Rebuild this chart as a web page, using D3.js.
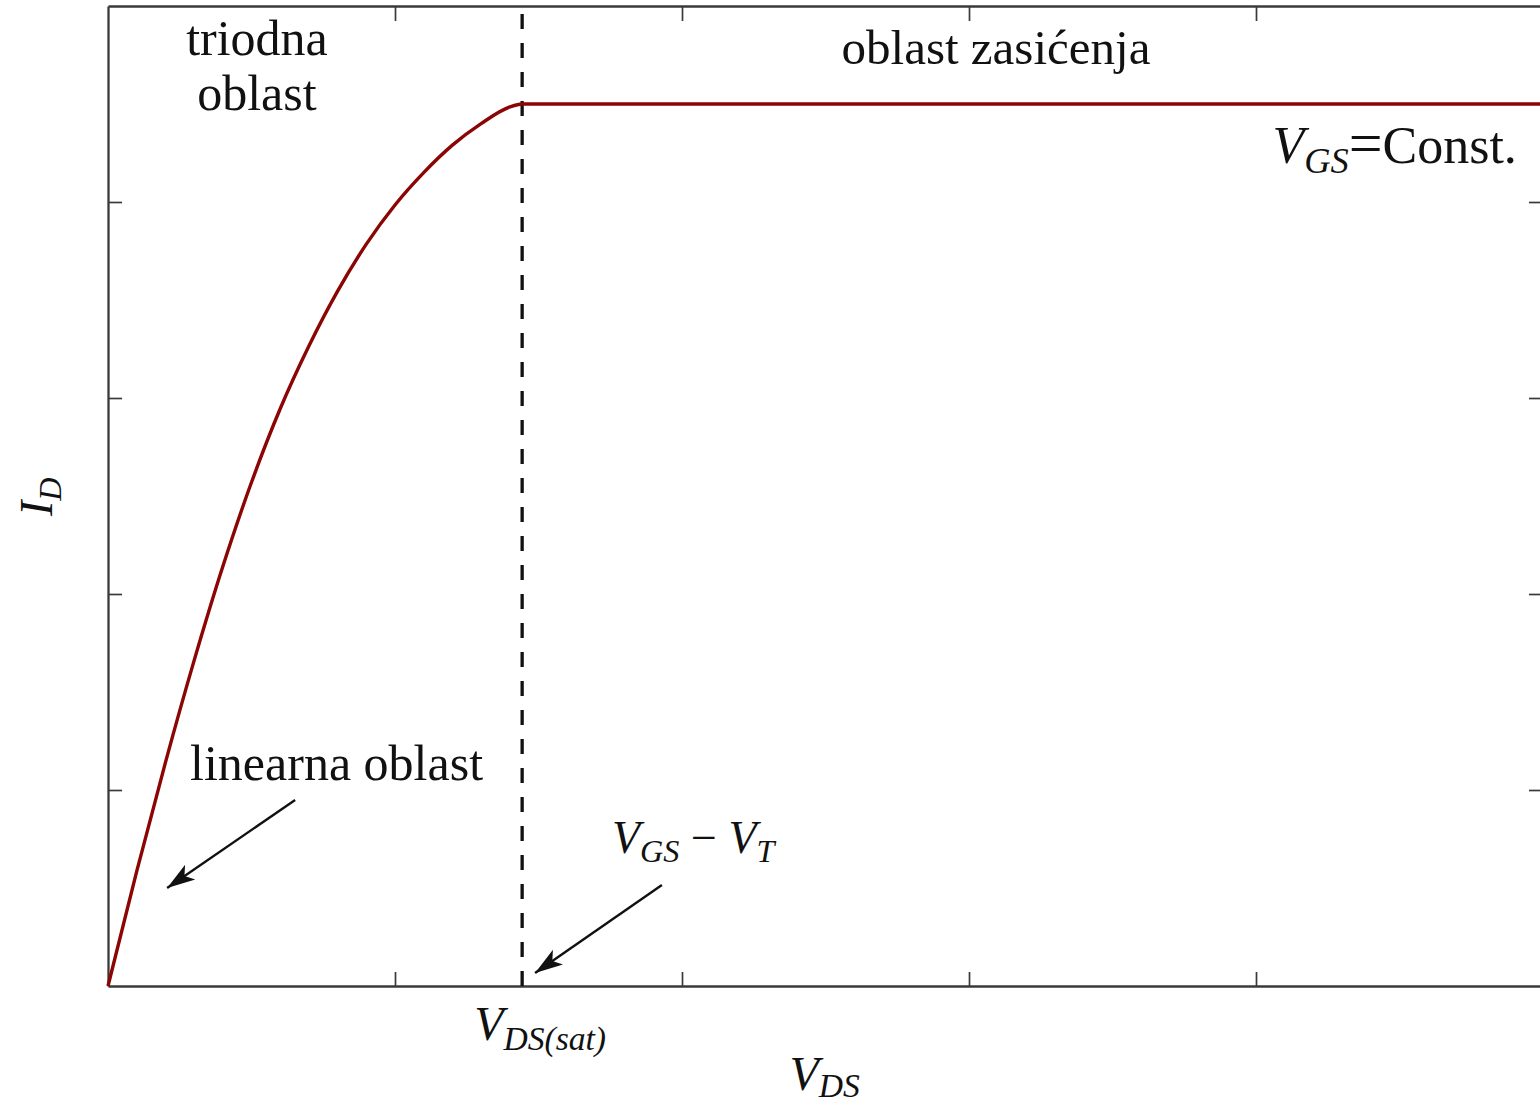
<!DOCTYPE html>
<html>
<head>
<meta charset="utf-8">
<script src="https://cdn.jsdelivr.net/npm/d3@7"></script>
<style>
  html, body { margin: 0; padding: 0; background: #fff; }
  svg { display: block; }
  text { font-family: "Liberation Serif", "DejaVu Serif", serif; fill: #111; }
</style>
</head>
<body>
<svg id="chart" width="1540" height="1104"></svg>
<script>
// Drain current I_D versus drain-source voltage V_DS at constant V_GS
const vds = [0, 0.1, 0.2, 0.3, 0.4, 0.5, 0.6, 0.7, 0.8, 0.9, 1.0, 1.1, 1.2, 1.3, 1.4, 1.443, 5];
const id  = [0, 0.585, 1.14, 1.66, 2.14, 2.57, 2.945, 3.265, 3.545, 3.785, 3.985, 4.15, 4.29, 4.40, 4.485, 4.5, 4.5];

// saturation onset V_DS(sat) = V_GS - V_T
const vdsSat = 1.443;

// tick positions (unlabelled)
const xTicks = [1, 2, 3, 4];
const yTicks = [1, 2, 3, 4];

// region and annotation labels
const regionLabels = ["triodna", "oblast", "oblast zasićenja", "linearna oblast"];

const width = 1540, height = 1104;
const margin = { left: 108, top: 6, right: -3, bottom: 118 };

const svg = d3.select("#chart");

const x = d3.scaleLinear().domain([0, 5]).range([margin.left, width - margin.right]);
const y = d3.scaleLinear().domain([0, 5]).range([height - margin.bottom, margin.top]);

const frameColor = "#3a3a3a";

// arrowhead
svg.append("defs").append("marker")
  .attr("id", "head")
  .attr("markerUnits", "userSpaceOnUse")
  .attr("viewBox", "0 -10 28 20")
  .attr("refX", 28).attr("refY", 0)
  .attr("markerWidth", 28).attr("markerHeight", 20)
  .attr("orient", "auto")
  .append("path")
  .attr("d", "M0,-9L28,0L0,9L7,0Z")
  .attr("fill", "#111");

// axes with inward ticks and no labels
function styleAxis(g) {
  g.selectAll(".tick text").remove();
  g.selectAll(".tick line").attr("stroke", frameColor).attr("stroke-width", 1.7);
  g.select(".domain").attr("stroke", frameColor).attr("stroke-width", 2.3);
}
svg.append("g").attr("transform", `translate(0,${y(0)})`)
  .call(d3.axisBottom(x).tickValues(xTicks).tickSize(-14).tickSizeOuter(0).tickFormat(""))
  .call(styleAxis);
svg.append("g").attr("transform", `translate(0,${y(5)})`)
  .call(d3.axisTop(x).tickValues(xTicks).tickSize(-15).tickSizeOuter(0).tickFormat(""))
  .call(styleAxis);
svg.append("g").attr("transform", `translate(${x(0)},0)`)
  .call(d3.axisLeft(y).tickValues(yTicks).tickSize(-14).tickSizeOuter(0).tickFormat(""))
  .call(styleAxis);
svg.append("g").attr("transform", `translate(${x(5)},0)`)
  .call(d3.axisRight(y).tickValues(yTicks).tickSize(-14).tickSizeOuter(0).tickFormat(""))
  .call(styleAxis);

// dashed boundary at V_DS(sat)
svg.append("line")
  .attr("x1", x(vdsSat)).attr("x2", x(vdsSat))
  .attr("y1", y(0)).attr("y2", y(5))
  .attr("stroke", "#111").attr("stroke-width", 3.3)
  .attr("stroke-dasharray", "15,14");

// characteristic curve
const pts = vds.map((v, i) => [v, id[i]]);
svg.append("path")
  .datum(pts)
  .attr("fill", "none")
  .attr("stroke", "#8b0505")
  .attr("stroke-width", 3.4)
  .attr("stroke-linejoin", "round")
  .attr("d", d3.line().x(d => x(d[0])).y(d => y(d[1])).curve(d3.curveMonotoneX));

// region labels
svg.append("text").attr("x", x(0.519)).attr("y", y(4.75))
  .attr("text-anchor", "middle").attr("font-size", 50).text(regionLabels[0]);
svg.append("text").attr("x", x(0.519)).attr("y", y(4.469))
  .attr("text-anchor", "middle").attr("font-size", 50).text(regionLabels[1]);
svg.append("text").attr("x", x(3.094)).attr("y", y(4.704))
  .attr("text-anchor", "middle").attr("font-size", 49).text(regionLabels[2]);
svg.append("text").attr("x", x(0.286)).attr("y", y(1.051))
  .attr("font-size", 50).text(regionLabels[3]);

// math-style label helper: italic symbol with italic subscript
function mathLabel(t, parts, size, subShift) {
  const shift = subShift == null ? size * 0.2 : subShift;
  parts.forEach(p => {
    const ts = t.append("tspan").text(p.t);
    if (p.italic) ts.attr("font-style", "italic");
    if (p.sub) ts.attr("font-size", size * 0.7).attr("dy", shift);
    if (p.up) ts.attr("dy", -shift);
    if (p.size) ts.attr("font-size", p.size);
  });
  return t;
}

// V_GS = Const.
mathLabel(svg.append("text").attr("x", x(4.909)).attr("y", y(4.199))
  .attr("text-anchor", "end").attr("font-size", 52),
  [{ t: "V", italic: true }, { t: "GS", italic: true, sub: true },
   { t: "=", up: true, size: 60 }, { t: "Const." }], 52);

// V_GS − V_T
mathLabel(svg.append("text").attr("x", x(1.756)).attr("y", y(0.679)).attr("font-size", 46),
  [{ t: "V", italic: true }, { t: "GS", italic: true, sub: true }, { t: " − ", up: true },
   { t: "V", italic: true }, { t: "T", italic: true, sub: true }], 46);

// V_DS(sat) under the axis
mathLabel(svg.append("text").attr("x", x(vdsSat) - 48).attr("y", y(0) + 54).attr("font-size", 48),
  [{ t: "V", italic: true }, { t: "DS(sat)", italic: true, sub: true }], 48);

// axis titles
mathLabel(svg.append("text").attr("x", (x(0) + x(5)) / 2 - 36).attr("y", y(0) + 104).attr("font-size", 48),
  [{ t: "V", italic: true }, { t: "DS", italic: true, sub: true }], 48, 7);

mathLabel(svg.append("text")
  .attr("transform", `translate(52,${(y(0) + y(5)) / 2 + 20}) rotate(-90)`)
  .attr("font-size", 46),
  [{ t: "I", italic: true }, { t: "D", italic: true, sub: true }], 46);

// annotation arrows (data coordinates)
const arrows = [
  { from: [0.652, 0.949], to: [0.206, 0.5] },
  { from: [1.930, 0.515], to: [1.488, 0.066] }
];
svg.selectAll("line.arrow").data(arrows).enter().append("line")
  .attr("class", "arrow")
  .attr("x1", d => x(d.from[0])).attr("y1", d => y(d.from[1]))
  .attr("x2", d => x(d.to[0])).attr("y2", d => y(d.to[1]))
  .attr("stroke", "#111").attr("stroke-width", 2.4)
  .attr("marker-end", "url(#head)");
</script>
</body>
</html>
